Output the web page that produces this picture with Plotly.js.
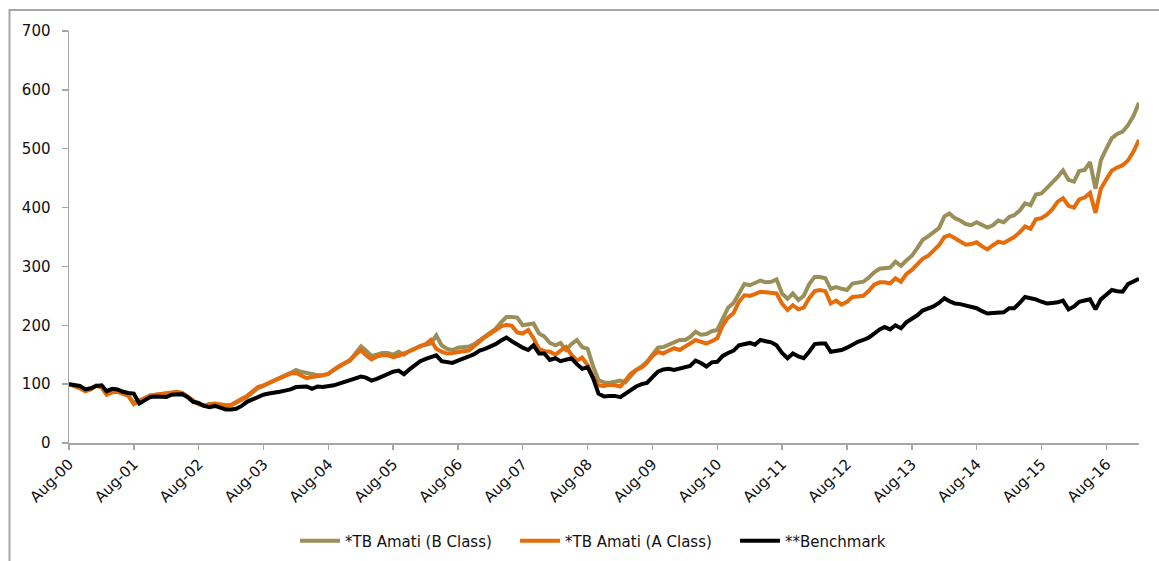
<!DOCTYPE html>
<html>
<head>
<meta charset="utf-8">
<script src="https://cdn.plot.ly/plotly-3.0.1.min.js"></script>
<style>html,body{margin:0;padding:0;background:#fff;}#chart{width:1159px;height:561px;}</style>
</head>
<body>
<div id="chart"></div>
<script>
// Monthly series, Aug-2000 .. Feb-2017 (199 months)
var startYear = 2000, startMonth = 8;
var seriesNames = ['*TB Amati (B Class)', '*TB Amati (A Class)', '**Benchmark'];
var seriesColors = ['#9A8F58', '#E46C0A', '#000000'];

var bClass = [100,98,94,89,92,98,95,83,87,88,84,81,68,72,77,81,82,83,84,86,86,84,77,71,66,64,66,66,64,63,
64,68,73,78,86,93,97,102,106,110,115,119,124,121,119,117,115,115,117,124,130,135,140,152,164,157,148,150,153,153,
150,155,150,156,160,165,167,169,183,166,160,158,162,163,164,168,174,182,188,194,205,214,214,213,200,201,203,186,181,170,
166,170,158,168,175,163,160,130,107,103,102,104,106,103,115,124,130,138,150,162,163,167,171,175,175,180,189,184,185,190,
192,212,230,238,255,270,268,272,276,273,274,278,254,245,254,243,250,270,282,282,280,262,265,262,260,271,272,274,281,290,
296,297,298,308,301,310,318,331,345,351,359,365,385,390,382,378,372,370,375,370,366,370,378,375,384,387,395,407,404,422,
424,433,442,452,463,447,444,462,464,477,432,480,500,518,525,529,540,556,578];

var aClass = [100,97,93,88,91,97,94,82,86,87,83,80,66,71,77,81,82,83,84,86,87,85,78,72,66,63,66,67,65,64,
65,69,75,80,88,95,98,102,106,110,114,118,119,115,110,112,113,115,118,125,131,136,141,150,158,149,142,147,149,149,
146,148,152,156,160,164,168,175,160,155,152,153,155,156,157,164,172,180,186,191,198,201,199,188,186,192,178,160,156,155,
150,157,163,150,140,145,132,112,98,97,99,98,96,106,118,124,128,136,148,155,152,157,161,158,163,169,175,172,169,173,
178,200,213,221,240,251,250,253,257,256,255,254,237,226,234,227,230,246,258,260,258,237,242,235,240,248,249,250,258,269,
273,273,271,280,274,287,294,305,313,318,328,336,350,353,348,343,337,338,341,334,329,336,342,340,345,350,358,368,364,380,
382,388,397,410,416,403,400,414,417,425,391,432,448,463,468,472,480,495,515];

var benchmark = [100,98,97,91,93,97,98,88,92,91,87,85,84,67,73,78,79,79,78,82,83,83,78,70,68,63,61,63,60,57,
57,58,63,70,74,78,82,84,85,87,89,91,95,96,96,92,96,95,96,98,101,104,106,110,113,111,106,109,113,118,
121,123,117,125,133,139,143,146,149,139,138,136,140,143,147,151,157,160,164,168,174,179,173,167,162,158,166,152,152,141,
144,139,142,144,134,126,129,110,84,79,80,80,78,84,91,96,100,102,112,121,125,126,124,127,130,131,140,136,130,137,
138,148,153,157,166,168,170,167,175,173,171,166,153,144,152,147,144,155,168,169,169,155,156,158,162,167,172,175,179,186,
193,197,193,200,195,205,211,217,225,229,232,238,246,241,237,236,234,231,229,224,220,221,221,222,229,229,238,248,246,244,
240,237,238,239,242,227,232,240,242,244,227,244,252,260,258,257,270,274,279];

var tickLabels = ['Aug-00','Aug-01','Aug-02','Aug-03','Aug-04','Aug-05','Aug-06','Aug-07','Aug-08',
                  'Aug-09','Aug-10','Aug-11','Aug-12','Aug-13','Aug-14','Aug-15','Aug-16'];
var yTicks = [0,100,200,300,400,500,600,700];

function pad(n){return (n<10?'0':'')+n;}
var dates = [];
for (var i = 0; i < benchmark.length; i++) {
  var m = startMonth - 1 + i;
  var y = startYear + Math.floor(m / 12);
  dates.push(y + '-' + pad(m % 12 + 1) + '-01');
}
var tickVals = tickLabels.map(function(t, k){ return (startYear + k) + '-' + pad(startMonth) + '-01'; });

var allSeries = [bClass, aClass, benchmark];
var traces = allSeries.map(function(s, k){
  return {x: dates, y: s, type: 'scatter', mode: 'lines', name: seriesNames[k],
          line: {color: seriesColors[k], width: 4}};
});

var font = {family: 'DejaVu Sans, sans-serif', size: 15, color: '#111111'};
var layout = {
  width: 1159, height: 561,
  margin: {l: 69, r: 20, t: 31, b: 118, pad: 0},
  paper_bgcolor: '#ffffff', plot_bgcolor: '#ffffff',
  font: font,
  showlegend: true,
  legend: {orientation: 'h', xref: 'container', yref: 'container',
           x: 295/1159, xanchor: 'left', y: 20/561, yanchor: 'middle',
           font: font, itemwidth: 40, traceorder: 'normal',
           entrywidth: 165, entrywidthmode: 'pixels'},
  xaxis: {
    type: 'date', range: [dates[0], dates[dates.length-1]], automargin: false,
    tickmode: 'array', tickvals: tickVals, ticktext: tickLabels, tickangle: -45,
    showgrid: false, zeroline: false, showline: true, linecolor: '#a6a6a6', linewidth: 1.5,
    ticks: 'outside', ticklen: 5, tickcolor: '#a6a6a6', tickwidth: 1.5, tickfont: font
  },
  yaxis: {
    range: [0, 700], tickmode: 'array', tickvals: yTicks, automargin: false,
    showgrid: false, zeroline: false, showline: true, linecolor: '#a6a6a6', linewidth: 1.5,
    ticks: 'outside', ticklen: 6, tickcolor: '#a6a6a6', tickwidth: 1.5, tickfont: font,
    ticklabelstandoff: 8
  },
  shapes: [{type: 'rect', xref: 'paper', yref: 'paper',
            x0: (9.5-69)/1070, x1: (1175-69)/1070, y0: (443-575)/412, y1: (443-10)/412,
            line: {color: '#a6a6a6', width: 2}, fillcolor: 'rgba(0,0,0,0)', layer: 'below'}]
};

Plotly.newPlot('chart', traces, layout, {displayModeBar: false, staticPlot: true});
</script>
</body>
</html>
